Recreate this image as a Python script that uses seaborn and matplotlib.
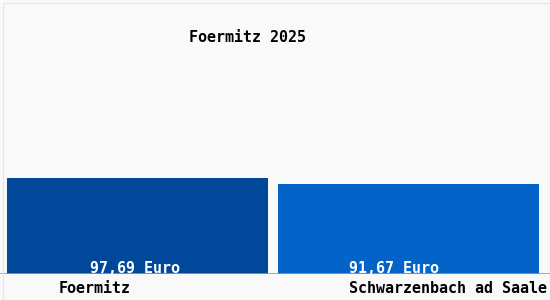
import matplotlib
matplotlib.use("Agg")
import matplotlib.pyplot as plt
import seaborn as sns
import pandas as pd
from matplotlib.patches import Rectangle

title = "Foermitz 2025"
categories = ["Foermitz", "Schwarzenbach ad Saale"]
values = [97.69, 91.67]
value_labels = ["97,69 Euro", "91,67 Euro"]
colors = ["#02489a", "#0363c9"]

sns.set_theme(style="white")
plt.rcParams["font.family"] = ["DejaVu Sans Mono", "DejaVu Sans"]

W, H = 550, 300
PX_PER_UNIT = 270.15
X0_PX = 137.85
BASE_PX = 274

fig = plt.figure(figsize=(5.5, 3.0), dpi=100)
fig.patch.set_facecolor("#f9f9f9")

ax = fig.add_axes([0, (H - BASE_PX) / H, 1, BASE_PX / H])
ax.set_facecolor("#f9f9f9")

df = pd.DataFrame({"cat": categories, "val": values})
sns.barplot(data=df, x="cat", y="val", hue="cat", palette=colors,
            width=261 / PX_PER_UNIT, legend=False, ax=ax, saturation=1,
            linewidth=0)
for p in ax.patches:
    p.set_edgecolor("none")
    p.set_linewidth(0)

xmin = -X0_PX / PX_PER_UNIT
xlim = (xmin, xmin + W / PX_PER_UNIT)
ylim = (0, values[0] * BASE_PX / 96)
for s in ax.spines.values():
    s.set_visible(False)
ax.set_xticks([])
ax.set_yticks([])
ax.set_xlabel("")
ax.set_ylabel("")
ax.axhline(0, color="#999999", lw=1.2)

fs = 10.8
label_shift = [-0.012, -0.05]
for i, (v, lab) in enumerate(zip(values, value_labels)):
    ax.text(i + label_shift[i], 1.2, lab, ha="center", va="baseline",
            color="white", fontsize=fs, fontweight="bold")

fig.text(247.5 / W, 1 - 38 / H, title, ha="center", va="center",
         fontsize=fs, color="black", fontweight="bold")
fig.text(95 / W, 1 - 293 / H, categories[0], ha="center", va="baseline",
         fontsize=fs, color="black", fontweight="bold")
fig.text(547 / W, 1 - 293 / H, categories[1], ha="right", va="baseline",
         fontsize=fs, color="black", fontweight="bold")

fig.patches.append(Rectangle((2.5 / W, 0), 1 - 2.5 / W, 1 - 2.5 / H,
                             transform=fig.transFigure, fill=False,
                             edgecolor="#e6e6e6", lw=0.8))

fig.canvas.draw()
ax.set_xlim(*xlim)
ax.set_ylim(*ylim)
fig.savefig("out.png", dpi=100, facecolor=fig.get_facecolor())
